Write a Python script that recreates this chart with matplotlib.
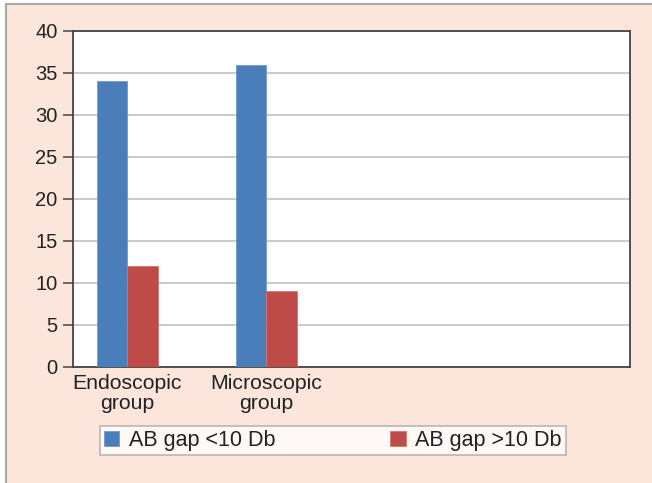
import matplotlib
matplotlib.use("Agg")
import matplotlib.pyplot as plt
import numpy as np
from matplotlib.patches import Rectangle

plt.rcParams['font.family'] = ['Liberation Sans', 'DejaVu Sans']

# datos
grupos = ['Endoscopic\ngroup', 'Microscopic\ngroup']
ab_menor_10 = [34, 36]
ab_mayor_10 = [12, 9]
series = ['AB gap <10 Db', 'AB gap >10 Db']
y_ticks = [0, 5, 10, 15, 20, 25, 30, 35, 40]

azul = '#4A7EBB'
rojo = '#BE4B48'
rosa = '#FCE6DC'
texto = '#222222'

fig = plt.figure(figsize=(6.52, 4.83), dpi=100)
fig.patch.set_facecolor('white')

# marco rosado de fondo
W, H = 652, 483
fondo = Rectangle((6 / W, -0.05), 1.1, (H - 4) / H + 0.05, transform=fig.transFigure,
                  facecolor=rosa, edgecolor='#A8A8A8', linewidth=1.5, zorder=-10)
fig.patches.append(fondo)

ax = fig.add_axes([73 / W, (H - 367) / H, 557 / W, 336 / H])
ax.set_facecolor('white')

x = np.arange(len(grupos))
ancho = 0.216
ax.bar(x - ancho / 2, ab_menor_10, ancho, color=azul, edgecolor='#6F9BD0',
       linewidth=0.6, label=series[0], zorder=3)
ax.bar(x + ancho / 2, ab_mayor_10, ancho, color=rojo, edgecolor='#D07573',
       linewidth=0.6, label=series[1], zorder=3)

ax.set_xlim(-0.392, 3.615)
ax.set_ylim(0, 40)
ax.set_yticks(y_ticks)
ax.set_xticks(x)
ax.set_xticklabels(grupos, linespacing=1.1)

ax.grid(axis='y', color='#C0C0C0', linewidth=1.2, zorder=0)
ax.set_axisbelow(True)

for s in ax.spines.values():
    s.set_color('#444444')
    s.set_linewidth(1.3)

ax.tick_params(axis='y', direction='out', length=7, width=1.1, color='#444444',
               pad=4, labelsize=14.5, labelcolor=texto)
ax.tick_params(axis='x', length=0, pad=5, labelsize=15.3, labelcolor=texto)

leg = fig.legend(loc='center', ncol=2, mode='expand',
                 bbox_to_anchor=(100 / W, (H - 456) / H, 466 / W, 31 / H),
                 fontsize=15.5, frameon=True, fancybox=False, shadow=False,
                 handlelength=0.7, handleheight=0.7, handletextpad=0.45,
                 borderpad=0.2, borderaxespad=0)
leg.get_frame().set_edgecolor('#A8A8A8')
leg.get_frame().set_linewidth(1.2)
leg.get_frame().set_facecolor('white')
for t in leg.get_texts():
    t.set_color(texto)

fig.savefig('out.png', dpi=100, facecolor=fig.get_facecolor())
